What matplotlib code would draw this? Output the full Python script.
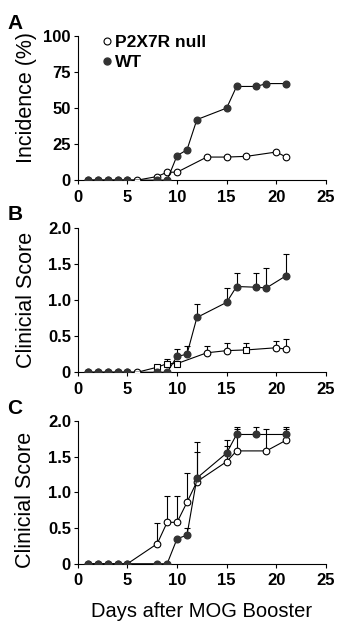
import matplotlib.pyplot as plt
from matplotlib.lines import Line2D

plt.rcParams['font.family'] = ['Liberation Sans', 'DejaVu Sans']

# Panel A - incidence (%)
days_a_wt = [1, 2, 3, 4, 5, 8, 9, 10, 11, 12, 15, 16, 18, 19, 21]
inc_wt = [0, 0, 0, 0, 0, 0, 0, 17, 21, 42, 50, 65, 65, 67, 67]
days_a_null = [1, 2, 3, 4, 5, 6, 8, 9, 10, 13, 15, 17, 20, 21]
inc_null = [0, 0, 0, 0, 0, 0, 2.5, 5.5, 5.5, 16, 16, 16.5, 19.5, 16]

# Panel B - clinical score
days_b_wt = [1, 2, 3, 4, 5, 8, 9, 10, 11, 12, 15, 16, 18, 19, 21]
score_b_wt = [0, 0, 0, 0, 0, 0, 0, 0.22, 0.25, 0.76, 0.97, 1.19, 1.18, 1.17, 1.34]
err_b_wt = [0, 0, 0, 0, 0, 0, 0, 0.10, 0.11, 0.19, 0.20, 0.19, 0.20, 0.28, 0.30]
days_b_null = [1, 2, 3, 4, 5, 6, 8, 9, 10, 13, 15, 17, 20, 21]
score_b_null = [0, 0, 0, 0, 0, 0, 0.07, 0.12, 0.12, 0.27, 0.30, 0.31, 0.34, 0.32]
err_b_null = [0, 0, 0, 0, 0, 0, 0.03, 0.06, 0, 0.10, 0.10, 0.10, 0.10, 0.14]
marker_b_null = ['o', 'o', 'o', 'o', 'o', 'o', 's', 's', 's', 'o', 'o', 's', 'o', 'o']

# Panel C - clinical score
days_c_wt = [1, 2, 3, 4, 5, 8, 9, 10, 11, 12, 15, 16, 18, 21]
score_c_wt = [0, 0, 0, 0, 0, 0, 0, 0.35, 0.40, 1.20, 1.55, 1.81, 1.81, 1.81]
err_c_wt = [0, 0, 0, 0, 0, 0, 0, 0, 0.10, 0.36, 0.18, 0.10, 0.10, 0.10]
days_c_null = [1, 2, 3, 4, 5, 8, 9, 10, 11, 12, 15, 16, 19, 21]
score_c_null = [0, 0, 0, 0, 0, 0.28, 0.58, 0.58, 0.86, 1.15, 1.43, 1.58, 1.58, 1.73]
err_c_null = [0, 0, 0, 0, 0, 0.29, 0.37, 0.37, 0.41, 0.55, 0.22, 0.30, 0.30, 0.15]

x_ticks = [0, 5, 10, 15, 20, 25]
dark = '#333333'

fig = plt.figure(figsize=(3.43, 6.32), dpi=100)
axA = fig.add_axes([0.227, 0.715, 0.723, 0.228])
axB = fig.add_axes([0.227, 0.411, 0.723, 0.228])
axC = fig.add_axes([0.227, 0.108, 0.723, 0.226])


def style(ax, ymax, yticks, yticklabels):
    ax.set_xlim(0, 25)
    ax.set_ylim(0, ymax)
    ax.set_xticks(x_ticks)
    ax.set_yticks(yticks)
    ax.set_yticklabels(yticklabels)
    ax.spines['top'].set_visible(False)
    ax.spines['right'].set_visible(False)
    for s in ('left', 'bottom'):
        ax.spines[s].set_linewidth(0.8)
    ax.tick_params(direction='out', length=3, width=0.8)
    ax.tick_params(axis='y', pad=2)
    ax.tick_params(axis='x', pad=4)
    for lab in ax.get_xticklabels() + ax.get_yticklabels():
        lab.set_fontsize(12)
        lab.set_fontweight('bold')
    ax.patch.set_visible(False)


# A
axA.plot(days_a_null, inc_null, color='black', lw=0.8, marker='o', ms=4.8,
         mfc='white', mec='black', mew=0.8, zorder=3)
axA.plot(days_a_wt, inc_wt, color='black', lw=0.8, marker='o', ms=4.8,
         mfc=dark, mec=dark, zorder=4)
style(axA, 100, [0, 25, 50, 75, 100], ['0', '25', '50', '75', '100'])
axA.set_ylabel('Incidence (%)', fontsize=15.5)
axA.yaxis.set_label_coords(-0.165, 0.57)
handles = [Line2D([], [], ls='none', marker='o', ms=5, mfc='white', mec='black', mew=0.8),
           Line2D([], [], ls='none', marker='o', ms=5, mfc=dark, mec=dark)]
axA.legend(handles, ['P2X7R null', 'WT'], loc='upper left', bbox_to_anchor=(0.06, 1.07),
           frameon=False, handlelength=0.6, handletextpad=0.2, labelspacing=0.3,
           borderpad=0, prop={'size': 12.5, 'weight': 'bold'})

# B
axB.errorbar(days_b_wt, score_b_wt, yerr=[[0] * len(err_b_wt), err_b_wt], fmt='none',
             ecolor='black', elinewidth=0.8, capsize=2.5, capthick=0.8, zorder=2)
axB.errorbar(days_b_null, score_b_null, yerr=[[0] * len(err_b_null), err_b_null], fmt='none',
             ecolor='black', elinewidth=0.8, capsize=2.5, capthick=0.8, zorder=2)
axB.plot(days_b_null, score_b_null, color='black', lw=0.8, zorder=3)
for d, v, m in zip(days_b_null, score_b_null, marker_b_null):
    axB.plot(d, v, marker=m, ms=4.8, mfc='white', mec='black', mew=0.8, zorder=3)
axB.plot(days_b_wt, score_b_wt, color='black', lw=0.8, marker='o', ms=4.8,
         mfc=dark, mec=dark, zorder=4)
style(axB, 2.0, [0, 0.5, 1.0, 1.5, 2.0], ['0', '0.5', '1.0', '1.5', '2.0'])
axB.set_ylabel('Clinicial Score', fontsize=15.5)
axB.yaxis.set_label_coords(-0.165, 0.5)

# C
axC.errorbar(days_c_null, score_c_null, yerr=[[0] * len(err_c_null), err_c_null], fmt='none',
             ecolor='black', elinewidth=0.8, capsize=2.5, capthick=0.8, zorder=2)
axC.errorbar(days_c_wt, score_c_wt, yerr=[[0] * len(err_c_wt), err_c_wt], fmt='none',
             ecolor='black', elinewidth=0.8, capsize=2.5, capthick=0.8, zorder=2)
axC.plot(days_c_null, score_c_null, color='black', lw=0.8, marker='o', ms=4.8,
         mfc='white', mec='black', mew=0.8, zorder=3)
axC.plot(days_c_wt, score_c_wt, color='black', lw=0.8, marker='o', ms=4.8,
         mfc=dark, mec=dark, zorder=4)
style(axC, 2.0, [0, 0.5, 1.0, 1.5, 2.0], ['0', '0.5', '1.0', '1.5', '2.0'])
axC.set_ylabel('Clinicial Score', fontsize=15.5)
axC.yaxis.set_label_coords(-0.17, 0.45)
axC.set_xlabel('Days after MOG Booster', fontsize=14.5)
axC.xaxis.set_label_coords(0.5, -0.27)

# panel letters
for y, letter in [(0.978, 'A'), (0.676, 'B'), (0.368, 'C')]:
    fig.text(0.022, y, letter, fontsize=15, fontweight='bold', va='top', ha='left')

fig.savefig('out.png', dpi=100)
